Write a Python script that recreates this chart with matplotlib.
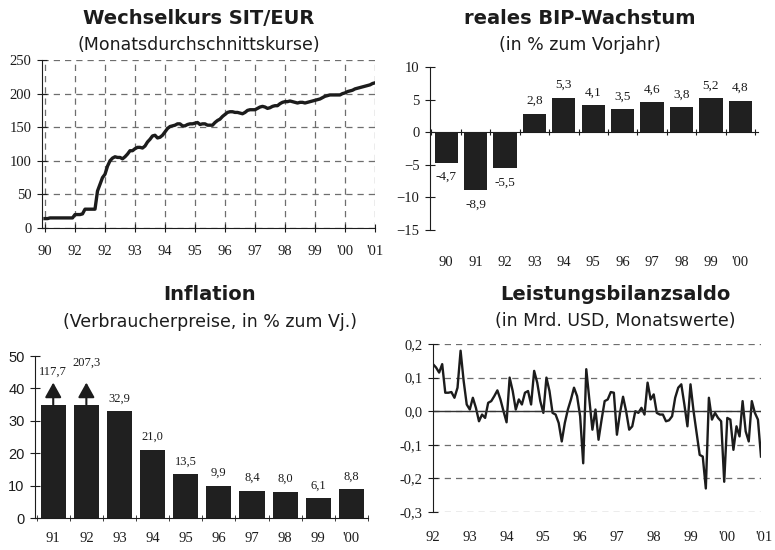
import numpy as np
import matplotlib
matplotlib.use("Agg")
import matplotlib.pyplot as plt

# exchange rate SIT/EUR, monthly averages Jan 1990 - Jan 2001
sit_eur = [14, 14, 15, 15, 15, 15, 15, 15, 15, 15, 15, 15,
           20, 20, 20, 21, 28, 28, 28, 28, 28, 55, 65, 75,
           80, 92, 100, 104, 106, 105, 105, 103, 106, 110, 115, 115,
           118, 120, 120, 119, 122, 128, 132, 137, 138, 134, 135, 138,
           143, 148, 151, 152, 153, 155, 155, 152, 152, 154, 155, 155,
           156, 157, 154, 155, 155, 153, 153, 153, 157, 160, 162, 166,
           169, 172, 173, 173, 172, 172, 171, 170, 172, 175, 176, 176,
           176, 178, 180, 181, 180, 178, 179, 181, 182, 182, 185, 187,
           188, 188, 189, 188, 187, 186, 187, 187, 186, 187, 188, 189,
           190, 191, 192, 194, 196, 197, 198, 198, 198, 198, 198, 200,
           201, 203, 204, 205, 207, 208, 209, 210, 211, 212, 213, 215,
           216]
sit_eur_labels = ["90", "92", "92", "93", "94", "95", "96", "97", "98", "99", "'00", "'01"]

# real GDP growth, % yoy
bip_labels = ["90", "91", "92", "93", "94", "95", "96", "97", "98", "99", "'00"]
bip_growth = [-4.7, -8.9, -5.5, 2.8, 5.3, 4.1, 3.5, 4.6, 3.8, 5.2, 4.8]

# consumer price inflation, % yoy
infl_labels = ["91", "92", "93", "94", "95", "96", "97", "98", "99", "'00"]
inflation = [117.7, 207.3, 32.9, 21.0, 13.5, 9.9, 8.4, 8.0, 6.1, 8.8]
infl_cap = 35  # bars above this are cut and get an arrow

# current account balance, bn USD, monthly Jan 1992 - Dec 2000
cab_labels = ["92", "93", "94", "95", "96", "97", "98", "99", "'00", "'01"]
current_account = [0.14, 0.13, 0.115, 0.14, 0.055, 0.055, 0.057, 0.04, 0.07, 0.18, 0.09, 0.02,
                   0.005, 0.04, 0.01, -0.03, -0.01, -0.02, 0.025, 0.03, 0.045, 0.062, 0.035, 0.0,
                   -0.033, 0.1, 0.06, 0.005, 0.035, 0.02, 0.055, 0.06, 0.02, 0.12, 0.085, 0.03,
                   -0.005, 0.1, 0.06, -0.005, -0.01, -0.035, -0.09, -0.035, 0.005, 0.035, 0.07, 0.045,
                   -0.015, -0.155, 0.125, 0.035, -0.055, 0.005, -0.085, -0.025, 0.03, 0.035, 0.057, 0.055,
                   -0.07, -0.005, 0.043, 0.0, -0.055, -0.045, 0.0, -0.005, 0.01, -0.01, 0.085, 0.035,
                   0.05, -0.005, -0.01, -0.01, -0.03, -0.027, -0.015, 0.04, 0.07, 0.08, 0.02, -0.045,
                   0.08, 0.0, -0.065, -0.13, -0.135, -0.23, 0.04, -0.025, -0.005, -0.02, -0.03, -0.21,
                   -0.02, -0.025, -0.115, -0.045, -0.075, 0.03, -0.06, -0.09, 0.03, -0.005, -0.025, -0.135]

W, H = 775, 550
INK = "#1c1c1c"
BAR = "#202020"
GRID = "#6e6e6e"
DASH = (0, (5, 4))
SERIF = "Liberation Serif"
SANS = "DejaVu Sans"

plt.rcParams["font.family"] = SERIF
plt.rcParams["text.color"] = INK
plt.rcParams["axes.edgecolor"] = INK
plt.rcParams["xtick.color"] = INK
plt.rcParams["ytick.color"] = INK
plt.rcParams["xtick.labelsize"] = 10.5
plt.rcParams["ytick.labelsize"] = 10.5


def box(left, top, right, bottom):
    # pixel box -> figure fraction rect
    return [left / W, 1 - bottom / H, (right - left) / W, (bottom - top) / H]


def comma(v, digits=1):
    return f"{v:.{digits}f}".replace(".", ",")


def heading(x, y, title, sub):
    fig.text(x / W, 1 - y / H, title, family=SANS, weight="bold", size=14,
             ha="center", va="center")
    fig.text(x / W, 1 - (y + 27) / H, sub, family=SANS, size=12.5,
             ha="center", va="center")


fig = plt.figure(figsize=(W / 100, H / 100), dpi=100)
fig.patch.set_facecolor("white")

# --- exchange rate ---
ax1 = fig.add_axes(box(42, 60, 375, 228))
t1 = 1990 + np.arange(len(sit_eur)) / 12
ax1.plot(t1, sit_eur, color=INK, lw=2.4, solid_joinstyle="round")
ax1.set_xlim(1989.9, 2001)
ax1.set_ylim(0, 250)
ax1.set_xticks(np.arange(1990, 1990 + len(sit_eur_labels)))
ax1.set_xticklabels(sit_eur_labels)
ax1.set_yticks(np.arange(0, 251, 50))
ax1.grid(True, color=GRID, ls=DASH, lw=0.9)
ax1.spines[["top", "right"]].set_visible(False)
ax1.tick_params(axis="x", direction="inout", length=6, pad=9)
ax1.tick_params(axis="y", direction="inout", length=7, pad=4)
heading(199, 18, "Wechselkurs SIT/EUR", "(Monatsdurchschnittskurse)")

# --- GDP growth ---
ax2 = fig.add_axes(box(430, 67, 758, 230))
xb = np.arange(len(bip_growth))
ax2.bar(xb, bip_growth, width=0.79, color=BAR)
ax2.set_xlim(-0.55, 10.6)
ax2.set_ylim(-15, 10)
ax2.set_yticks(np.arange(-15, 11, 5))
ax2.spines[["top", "right", "bottom"]].set_visible(False)
ax2.set_xticks(xb, bip_labels)
ax2.tick_params(axis="x", length=0, pad=19)
ax2.tick_params(axis="y", direction="inout", length=7, pad=4)
zero2 = ax2.secondary_xaxis(0, transform=ax2.transData)
zero2.set_xticks(np.append(xb - 0.5, xb[-1] + 0.5))
zero2.set_xticklabels([])
zero2.tick_params(direction="inout", length=5, color=INK)
zero2.spines["bottom"].set_color(INK)
for i, v in enumerate(bip_growth):
    off = 5 if v > 0 else -6
    ax2.annotate(comma(v), (i, v), xytext=(0, off), textcoords="offset points",
                 ha="center", va="bottom" if v > 0 else "top", size=9.5)
heading(580, 18, "reales BIP-Wachstum", "(in % zum Vorjahr)")

# --- inflation ---
ax3 = fig.add_axes(box(35, 356, 368, 518))
xi = np.arange(len(inflation))
ax3.bar(xi, np.minimum(inflation, infl_cap), width=0.76, color=BAR)
ax3.set_xlim(-0.55, 9.5)
ax3.set_ylim(0, 50)
ax3.set_yticks(np.arange(0, 51, 10))
for lab in ax3.get_yticklabels():
    lab.set_family("Liberation Sans")
ax3.spines[["top", "right"]].set_visible(False)
ax3.set_xticks(xi, infl_labels)
ax3.set_xticks(np.append(xi - 0.5, xi[-1] + 0.5), minor=True)
ax3.tick_params(axis="x", which="major", length=0, pad=10)
ax3.tick_params(axis="x", which="minor", direction="inout", length=5)
ax3.tick_params(axis="y", direction="inout", length=7, pad=4)
n_cut = 0
for i, v in enumerate(inflation):
    if v > infl_cap:
        ax3.annotate("", xy=(i, infl_cap + 6.8), xytext=(i, infl_cap),
                     arrowprops=dict(arrowstyle="-|>,head_length=0.9,head_width=0.5",
                                     color=INK, lw=1.5, shrinkA=0, shrinkB=0))
        ax3.annotate(comma(v), (i, infl_cap), xytext=(0, 24 + 6.5 * n_cut),
                     textcoords="offset points", ha="center", va="center", size=9)
        n_cut += 1
    else:
        ax3.annotate(comma(v), (i, v), xytext=(0, 5), textcoords="offset points",
                     ha="center", va="bottom", size=9)
heading(210, 295, "Inflation", "(Verbraucherpreise, in % zum Vj.)")

# --- current account ---
ax4 = fig.add_axes(box(433, 344, 761, 512))
t4 = 1992 + np.arange(len(current_account)) / 12
ax4.plot(t4, current_account, color=INK, lw=1.7)
ax4.set_xlim(t4[0], t4[-1])
ax4.set_ylim(-0.3, 0.2)
yt = np.round(np.arange(-0.3, 0.21, 0.1), 1)
ax4.set_yticks(yt, [comma(v) for v in yt])
ax4.grid(True, axis="y", color=GRID, ls=DASH, lw=0.9)
ax4.axhline(0, color="#333333", lw=1.0)
ax4.spines[["top", "right", "bottom"]].set_visible(False)
ax4.set_xticks([])
ax4.tick_params(axis="y", direction="inout", length=7, pad=4)
for k, lab in enumerate(cab_labels):
    ax4.text(1992 + k, -0.15, lab, transform=ax4.get_xaxis_transform(),
             ha="center", va="center", size=10.5, clip_on=False)
heading(615, 294, "Leistungsbilanzsaldo", "(in Mrd. USD, Monatswerte)")

fig.savefig("out.png", dpi=100)
